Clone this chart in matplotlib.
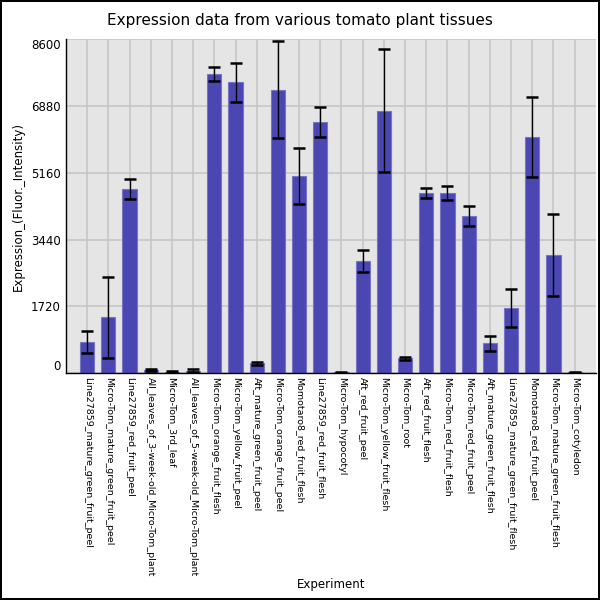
import matplotlib
matplotlib.use("Agg")
import matplotlib.pyplot as plt
import numpy as np

# tissue names, in plotted order
experiments = [
    "Line27859_mature_green_fruit_peel",
    "Micro-Tom_mature_green_fruit_peel",
    "Line27859_red_fruit_peel",
    "All_leaves_of_3-week-old_Micro-Tom_plant",
    "Micro-Tom_3rd_leaf",
    "All_leaves_of_5-week-old_Micro-Tom_plant",
    "Micro-Tom_orange_fruit_flesh",
    "Micro-Tom_yellow_fruit_peel",
    "Aft_mature_green_fruit_peel",
    "Micro-Tom_orange_fruit_peel",
    "Momotaro8_red_fruit_flesh",
    "Line27859_red_fruit_flesh",
    "Micro-Tom_hypocotyl",
    "Aft_red_fruit_peel",
    "Micro-Tom_yellow_fruit_flesh",
    "Micro-Tom_root",
    "Aft_red_fruit_flesh",
    "Micro-Tom_red_fruit_flesh",
    "Micro-Tom_red_fruit_peel",
    "Aft_mature_green_fruit_flesh",
    "Line27859_mature_green_fruit_flesh",
    "Momotaro8_red_fruit_peel",
    "Micro-Tom_mature_green_fruit_flesh",
    "Micro-Tom_cotyledon",
]

# mean expression and error
expression = [800, 1440, 4740, 90, 30, 60, 7700, 7490, 250, 7290, 5070, 6460,
              20, 2885, 6750, 380, 4640, 4640, 4045, 775, 1675, 6080, 3040, 20]
errors = [290, 1040, 255, 25, 15, 40, 185, 500, 45, 1250, 720, 385,
          10, 290, 1585, 35, 135, 185, 260, 195, 490, 1030, 1065, 10]

yticks = [0, 1720, 3440, 5160, 6880, 8600]

fig = plt.figure(figsize=(6, 6), dpi=100)
fig.patch.set_edgecolor("black")
fig.patch.set_linewidth(1.5)
ax = fig.add_axes([0.11, 0.378, 0.883, 0.557])
ax.set_facecolor("#e5e5e5")

x = np.arange(len(experiments))
ax.bar(x, expression, width=0.67, color="#4a46b2", edgecolor="#7874c6",
       linewidth=0.8, zorder=2)
ax.errorbar(x, expression, yerr=errors, fmt="none", ecolor="black",
            elinewidth=1, capsize=4.5, capthick=1.8, zorder=3)

ax.set_xlim(-1, len(experiments))
ax.set_ylim(0, 8600)
ax.set_yticks(yticks)
ax.set_yticklabels([str(t) for t in yticks], fontsize=8.5)
lbls = ax.get_yticklabels()
lbls[0].set_va("bottom")
lbls[-1].set_va("top")

ax.set_xticks(x)
ax.set_xticklabels(experiments, rotation=270, fontsize=6.8, va="top", ha="center")
ax.tick_params(length=0, pad=4)
ax.tick_params(axis="x", pad=3)

ax.grid(True, color="#c6c6c6", linewidth=1.2, zorder=0)
ax.set_axisbelow(True)
for s in ["top", "right"]:
    ax.spines[s].set_visible(False)
ax.spines["left"].set_linewidth(1)
ax.spines["bottom"].set_linewidth(1)

ax.set_ylabel("Expression_(Fluor._Intensity)", fontsize=8.5)
ax.set_xlabel("Experiment", fontsize=8.5, labelpad=1)
fig.suptitle("Expression data from various tomato plant tissues", fontsize=11, y=0.978)

fig.savefig("out.png", dpi=100, edgecolor=fig.get_edgecolor())
